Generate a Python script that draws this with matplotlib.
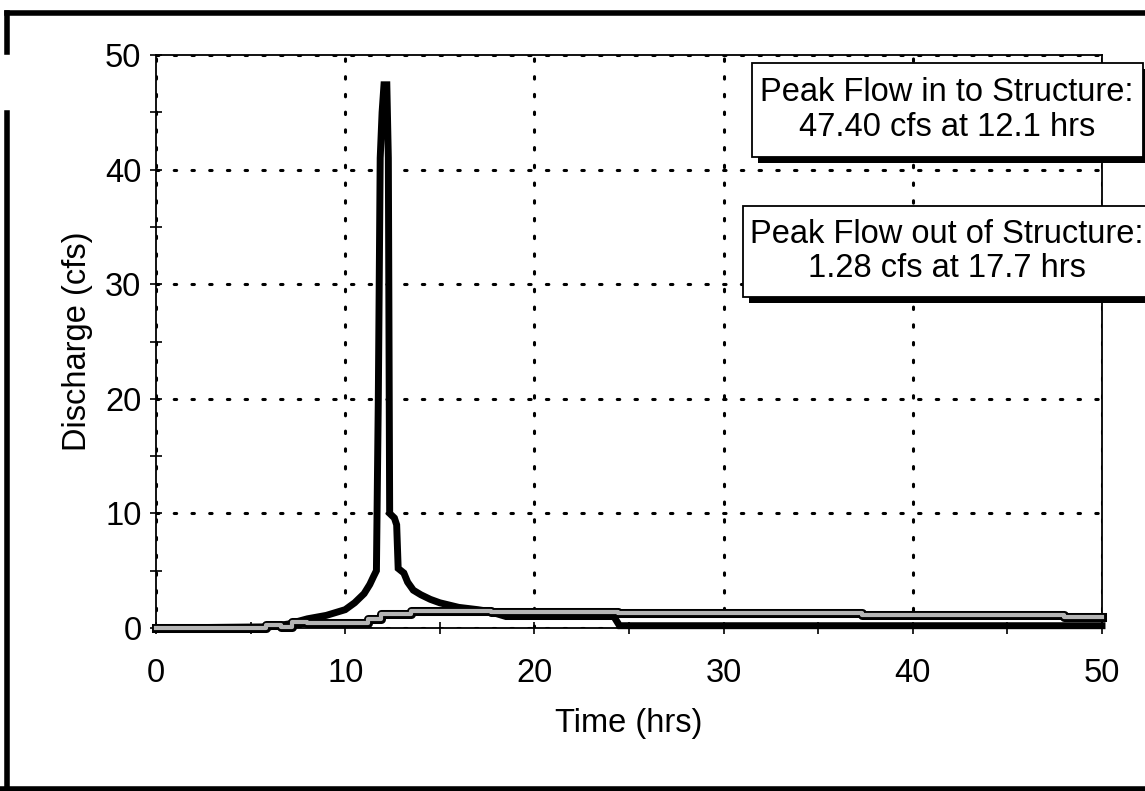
import matplotlib
matplotlib.use('Agg')
import matplotlib.pyplot as plt
import matplotlib.patheffects as pe
from matplotlib.lines import Line2D
from matplotlib.patches import Rectangle

plt.rcParams['font.family'] = ['Liberation Sans', 'DejaVu Sans']

# Inflow hydrograph (cfs)
t_in = [0, 6, 7, 8, 9, 10, 10.5, 11, 11.3, 11.5, 11.65, 11.75, 11.85, 11.95, 12.05,
        12.2, 12.28, 12.35, 12.6, 12.72, 12.8, 13.1, 13.3, 13.6, 14.0, 14.5, 15, 16,
        17, 17.6, 18.5, 24.2, 24.5, 50]
q_in = [0, 0.1, 0.35, 0.8, 1.1, 1.6, 2.2, 3.0, 3.8, 4.5, 5.0, 20, 41, 45, 47.4,
        47.4, 41, 10, 9.6, 9.0, 5.2, 4.8, 4.0, 3.3, 2.9, 2.5, 2.2, 1.8,
        1.6, 1.45, 1.0, 1.0, 0.2, 0.2]

# Outflow hydrograph (cfs), stepped
t_out = [0, 5.8, 6.6, 7.2, 8.0, 11.2, 11.9, 13.5, 17.7, 24.4, 37.3, 48.0, 50]
q_out = [0, 0.3, 0.1, 0.5, 0.45, 0.75, 1.2, 1.5, 1.4, 1.3, 1.15, 1.0, 1.0]

xticks = [0, 10, 20, 30, 40, 50]
yticks = [0, 10, 20, 30, 40, 50]
note_in = 'Peak Flow in to Structure:\n47.40 cfs at 12.1 hrs'
note_out = 'Peak Flow out of Structure:\n1.28 cfs at 17.7 hrs'

W, H = 1145, 791
fig = plt.figure(figsize=(W / 100, H / 100), dpi=100)
ax = fig.add_axes([156 / W, 1 - 628 / H, (1102 - 156) / W, (628 - 55) / H])

ax.plot(t_in, q_in, color='black', lw=5, solid_joinstyle='miter', zorder=3, clip_on=False)
ax.plot(t_out, q_out, color='#b5b5b5', lw=3, drawstyle='steps-post', zorder=4, clip_on=False,
        path_effects=[pe.Stroke(linewidth=6.5, foreground='black'), pe.Normal()])

ax.set_xlim(0, 50)
ax.set_ylim(0, 50)
ax.set_xticks(xticks)
ax.set_yticks(yticks)
ax.set_xticks(range(5, 50, 10), minor=True)
ax.set_yticks(range(5, 50, 10), minor=True)
ax.tick_params(which='both', direction='inout', length=9, width=1.2, labelsize=23.5)
ax.tick_params(axis='x', pad=17)
ax.tick_params(axis='y', pad=6)
for s in ax.spines.values():
    s.set_linewidth(1.3)

ax.grid(True, which='major', color='black', linestyle=(0, (0.8, 5)), lw=2.2,
        dash_capstyle='round')
ax.set_axisbelow(False)

ax.set_xlabel('Time (hrs)', fontsize=23.5, labelpad=14)
ax.set_ylabel('Discharge (cfs)', fontsize=23.5, labelpad=9)

# annotation boxes (in figure pixels)
shadow = [pe.SimplePatchShadow(offset=(4, -4), shadow_rgbFace='black', alpha=1), pe.Normal()]
for x0, y0, x1, y1, txt in [(752, 63, 1143, 157, note_in), (743, 206, 1160, 297, note_out)]:
    r = Rectangle((x0 / W, 1 - y1 / H), (x1 - x0) / W, (y1 - y0) / H, transform=fig.transFigure,
                  facecolor='white', edgecolor='black', lw=1.3, path_effects=shadow, zorder=10)
    fig.add_artist(r)
    fig.text(947 / W, 1 - (y0 + y1) / 2 / H, txt, ha='center', va='center', fontsize=23.5,
             linespacing=1.15, zorder=11)

# scanned page frame
for xs, ys, lw in [([7, 1145], [13, 13], 4), ([7, 7], [13, 52], 4), ([7, 7], [113, 791], 4),
                   ([0, 1145], [789, 789], 4)]:
    fig.add_artist(Line2D([x / W for x in xs], [1 - y / H for y in ys], color='black', lw=lw,
                          transform=fig.transFigure))

fig.savefig('out.png', dpi=100, facecolor='white')
